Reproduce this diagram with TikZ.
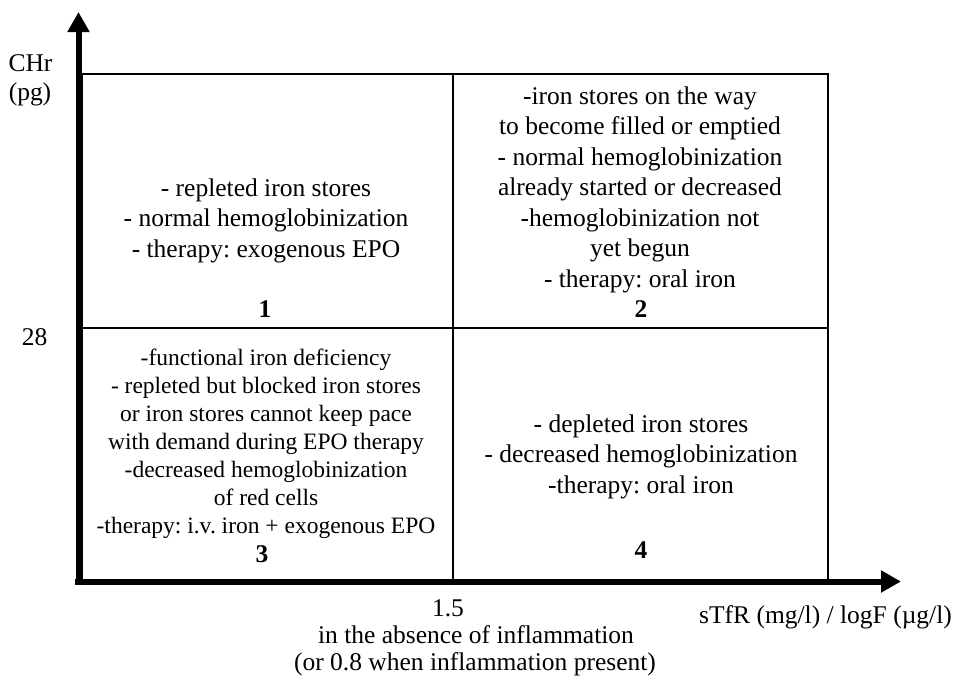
\documentclass[tikz,border=0pt]{standalone}
\usepackage{fontspec}
\setmainfont{Liberation Serif}
\usetikzlibrary{arrows.meta}
\frenchspacing
\begin{document}
\begin{tikzpicture}[x=1pt,y=-1pt,
  boxline/.style={line width=2pt, line cap=rect},
  axisline/.style={line width=6pt, -{Triangle[length=20pt,width=21pt]}},
  lbl/.style={font=\fontsize{25.5}{30.5}\selectfont\frenchspacing, inner sep=0pt, anchor=base, align=center},
  smalllbl/.style={font=\fontsize{23.5}{28}\selectfont\frenchspacing, inner sep=0pt, anchor=base, align=center},
  numlbl/.style={font=\fontsize{25.5}{30.5}\selectfont\bfseries, inner sep=0pt, anchor=base}]
\useasboundingbox (0,0) rectangle (954,680);
% box coordinates
\coordinate (tl) at (82,74);
\coordinate (tm) at (453,74);
\coordinate (tr) at (828,74);
\coordinate (ml) at (82,328);
\coordinate (mr) at (828,328);
\coordinate (bl) at (82,580);
\coordinate (bm) at (453,580);
\coordinate (br) at (828,580);
\draw[boxline] (tl) -- (tr) -- (br) -- (bl) -- cycle;
\draw[boxline] (tm) -- (bm);
\draw[boxline] (ml) -- (mr);
% axes
\coordinate (yb) at (78.5,584.5);
\coordinate (yt) at (78.5,12);
\coordinate (xl) at (75,581.5);
\coordinate (xr) at (901,581.5);
\draw[axisline] (yb) -- (yt);
\draw[axisline] (xl) -- (xr);
% axis labels
\node[lbl] (chr) at (30.5,71) {CHr};
\node[lbl] (pg) at (30,100) {(pg)};
\node[lbl] (v28) at (34.5,345) {28};
\node[lbl] (v15) at (448,616) {1.5};
\node[lbl] (abs) at (476,643) {in the absence of inflammation};
\node[lbl] (orp) at (475,670) {(or 0.8 when inflammation present)};
\node[lbl] (xlab) at (825.5,623) {sTfR (mg/l) / logF (µg/l)};
% quadrant texts (anchor = baseline of last line)
\node[lbl] (b1) at (266,257) {- repleted iron stores\\- normal hemoglobinization\\- therapy: exogenous EPO};
\node[numlbl] (n1) at (265,317) {1};
\node[lbl] (b2) at (640,287) {-iron stores on the way\\to become filled or emptied\\- normal hemoglobinization\\already started or decreased\\-hemoglobinization not\\yet begun\\- therapy: oral iron};
\node[numlbl] (n2) at (641,317) {2};
\node[smalllbl] (b3) at (266,533) {-functional iron deficiency\\- repleted but blocked iron stores\\or iron stores cannot keep pace\\with demand during EPO therapy\\-decreased hemoglobinization\\of red cells\\-therapy: i.v. iron + exogenous EPO};
\node[numlbl] (n3) at (262,562) {3};
\node[lbl] (b4) at (641,493) {- depleted iron stores\\- decreased hemoglobinization\\-therapy: oral iron};
\node[numlbl] (n4) at (641,558) {4};
\end{tikzpicture}
\end{document}
